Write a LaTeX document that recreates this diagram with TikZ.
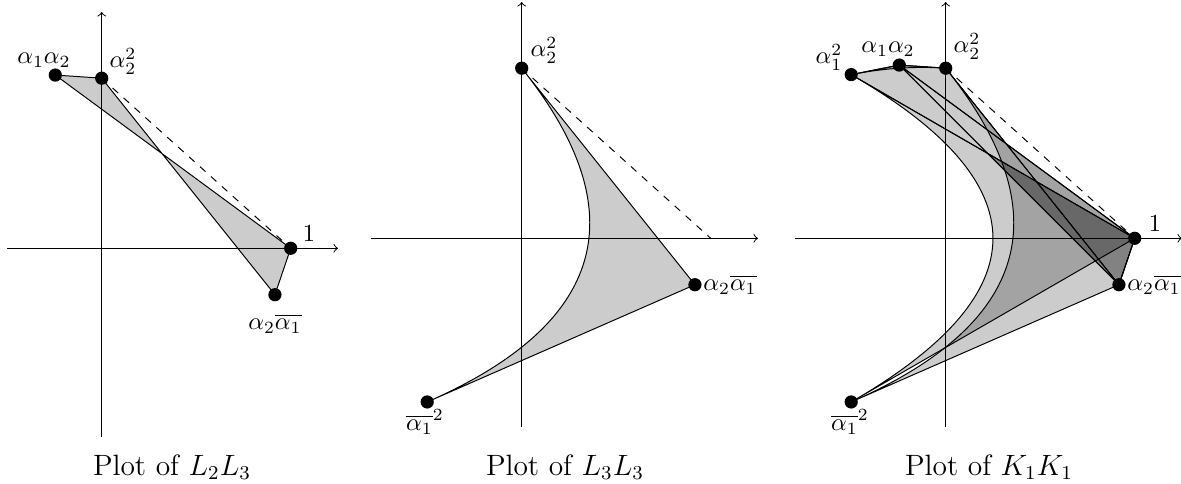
\documentclass[tikz,border=0pt]{standalone}
\usetikzlibrary{calc}
\begin{document}
\begin{tikzpicture}[x=0.4082pt,y=-0.4082pt,
  dot/.style={circle,fill=black,inner sep=0pt,minimum size=5.4pt},
  lbl/.style={inner sep=0pt},
  captext/.style={inner sep=0pt,font=\large},
  axisline/.style={->,line width=0.4pt},
  region/.style={fill=gray!40,draw=black,line width=0.4pt,line join=round},
  layer/.style={fill=black,fill opacity=0.2,draw=black,line width=0.4pt,line join=round},
  guide/.style={dashed,line width=0.4pt}]
\useasboundingbox (0,0) rectangle (1181,484);

% ---------------- Plot of L2L3 ----------------
\begin{scope}[shift={(101.7,248.3)},x=77.15pt,y=77.15pt]
  \coordinate (La) at (-0.2456,0.9166);
  \coordinate (Lb) at (0,0.9);
  \coordinate (Lc) at (1,0);
  \coordinate (Ld) at (0.9166,-0.2456);
  \coordinate (LxW) at (-0.5,0);  \coordinate (LxE) at (1.25,0);
  \coordinate (LyS) at (0,-1);    \coordinate (LyN) at (0,1.25);
  \filldraw[region] (La) -- (Lb) -- (Ld) -- (Lc) -- cycle;
  \draw[guide] (Lb) -- (Lc);
  \draw[axisline] (LxW) -- (LxE);
  \draw[axisline] (LyS) -- (LyN);
  \node[dot] (dLa) at (La) {};
  \node[dot] (dLb) at (Lb) {};
  \node[dot] (dLc) at (Lc) {};
  \node[dot] (dLd) at (Ld) {};
\end{scope}
\node[lbl] (tLa) at (44,60) {$\alpha_1\alpha_2$};
\node[lbl] (tLb) at (123,61) {$\alpha_2^2$};
\node[lbl] (tLc) at (309,234) {$1$};
\node[lbl] (tLd) at (275,324) {$\alpha_2\overline{\alpha_1}$};
\node[captext] (capL) at (172,467) {Plot of $L_2L_3$};

% ---------------- Plot of L3L3 ----------------
\begin{scope}[shift={(521.7,238.3)},x=77.15pt,y=77.15pt]
  \coordinate (Mb) at (0,0.9);
  \coordinate (Mc) at (1,0);
  \coordinate (Md) at (0.9166,-0.2456);
  \coordinate (Me) at (-0.5,-0.866);
  \coordinate (MxW) at (-0.8,0);  \coordinate (MxE) at (1.25,0);
  \coordinate (MyS) at (0,-1);    \coordinate (MyN) at (0,1.25);
  \filldraw[region] (Mb) -- (Md) -- (Me)
     .. controls ($(Me)!2/3!(Md)$) and ($(Mb)!2/3!(Md)$) .. (Mb) -- cycle;
  \draw[guide] (Mb) -- (Mc);
  \draw[axisline] (MxW) -- (MxE);
  \draw[axisline] (MyS) -- (MyN);
  \node[dot] (dMb) at (Mb) {};
  \node[dot] (dMd) at (Md) {};
  \node[dot] (dMe) at (Me) {};
\end{scope}
\node[lbl] (tMb) at (544,50) {$\alpha_2^2$};
\node[lbl] (tMd) at (730,285) {$\alpha_2\overline{\alpha_1}$};
\node[lbl] (tMe) at (425,422) {$\overline{\alpha_1}^2$};
\node[captext] (capM) at (565,467) {Plot of $L_3L_3$};

% ---------------- Plot of K1K1 ----------------
\begin{scope}[shift={(945.7,238.3)},x=77.15pt,y=77.15pt]
  \coordinate (Ra) at (-0.2456,0.9166);
  \coordinate (Rb) at (0,0.9);
  \coordinate (Rc) at (1,0);
  \coordinate (Rd) at (0.9166,-0.2456);
  \coordinate (Re) at (-0.5,-0.866);
  \coordinate (Rf) at (-0.5,0.866);
  \coordinate (RxW) at (-0.8,0);  \coordinate (RxE) at (1.25,0);
  \coordinate (RyS) at (0,-1);    \coordinate (RyN) at (0,1.25);
  % L1L1
  \filldraw[layer] (Re) -- (Rc) -- (Rf)
     .. controls ($(Rf)!2/3!(Rc)$) and ($(Re)!2/3!(Rc)$) .. (Re) -- cycle;
  % L2L2
  \filldraw[layer] (Rf) -- (Ra) -- (Rb)
     .. controls ($(Rb)!2/3!(Ra)$) and ($(Rf)!2/3!(Ra)$) .. (Rf) -- cycle;
  % L3L3
  \filldraw[layer] (Rb) -- (Rd) -- (Re)
     .. controls ($(Re)!2/3!(Rd)$) and ($(Rb)!2/3!(Rd)$) .. (Rb) -- cycle;
  % L1L2
  \filldraw[layer] (Rc) -- (Rd) -- (Ra) -- (Rf) -- cycle;
  % L2L3
  \filldraw[layer] (Ra) -- (Rb) -- (Rd) -- (Rc) -- cycle;
  % L1L3 part
  \filldraw[layer] (Ra) -- (Rc) -- (Rd) -- cycle;
  \draw[guide] (Rb) -- (Rc);
  \draw[axisline] (RxW) -- (RxE);
  \draw[axisline] (RyS) -- (RyN);
  \node[dot] (dRa) at (Ra) {};
  \node[dot] (dRb) at (Rb) {};
  \node[dot] (dRc) at (Rc) {};
  \node[dot] (dRd) at (Rd) {};
  \node[dot] (dRe) at (Re) {};
  \node[dot] (dRf) at (Rf) {};
\end{scope}
\node[lbl] (tRf) at (829,57) {$\alpha_1^2$};
\node[lbl] (tRa) at (888,49) {$\alpha_1\alpha_2$};
\node[lbl] (tRb) at (967,46) {$\alpha_2^2$};
\node[lbl] (tRc) at (1155,224) {$1$};
\node[lbl] (tRd) at (1154,285) {$\alpha_2\overline{\alpha_1}$};
\node[lbl] (tRe) at (850,422) {$\overline{\alpha_1}^2$};
\node[captext] (capR) at (989,467) {Plot of $K_1K_1$};
\end{tikzpicture}
\end{document}
